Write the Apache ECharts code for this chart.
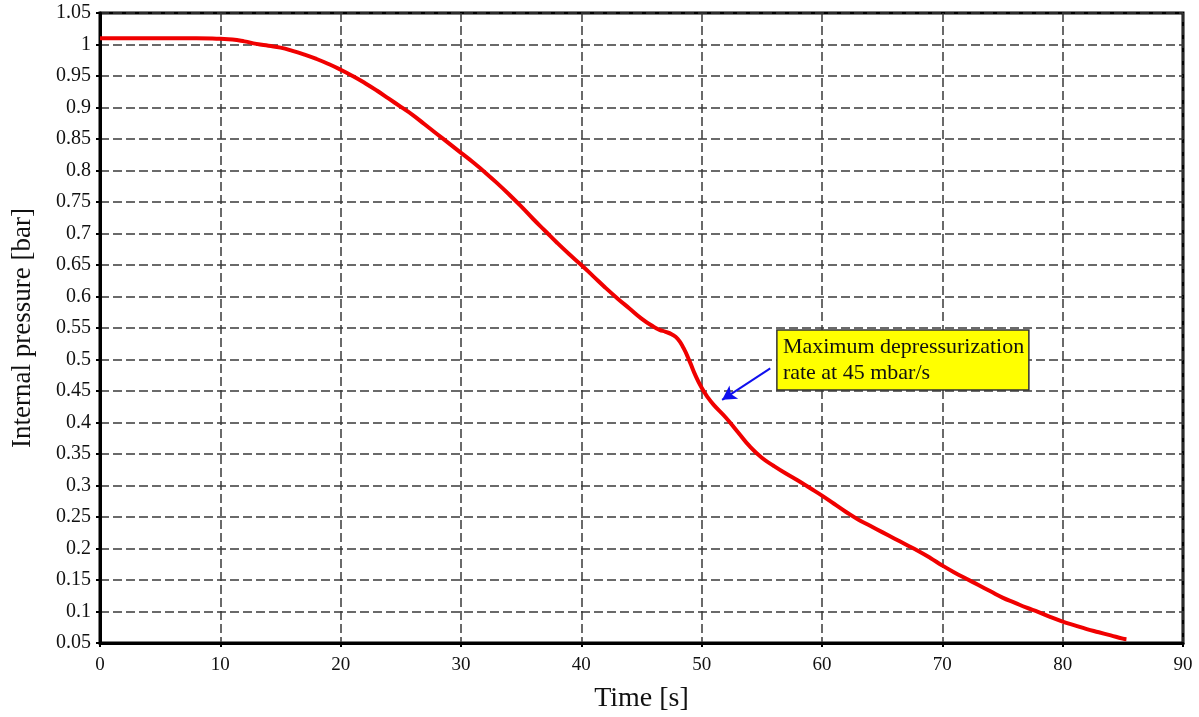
<!DOCTYPE html>
<html>
<head>
<meta charset="utf-8">
<script src="https://cdn.jsdelivr.net/npm/echarts@6/dist/echarts.min.js"></script>
<style>html,body{margin:0;padding:0;background:#fff}#c{width:1199px;height:717px}</style>
</head>
<body>
<div id="c"></div>
<script>
// Data
const timeS = [0, 2, 4, 6, 8, 10, 11, 12, 13, 14, 15, 16, 17, 18, 19, 20, 21, 22, 23, 24, 25, 26, 27, 28, 29, 30, 31, 32, 33, 34, 35, 36, 37, 38, 39, 40, 41, 42, 43, 44, 45, 46, 46.5, 47, 47.5, 48, 48.5, 49, 49.5, 50, 50.5, 51, 52, 53, 54, 55, 56, 57, 58, 59, 60, 61, 62, 63, 64, 65, 66, 67, 68, 69, 70, 71, 72, 73, 74, 75, 76, 77, 78, 79, 80, 81, 82, 83, 84, 85, 85.3];
const pressureBar = [1.01, 1.01, 1.01, 1.01, 1.01, 1.009, 1.008, 1.005, 1.001, 0.998, 0.995, 0.99, 0.984, 0.977, 0.969, 0.96, 0.95, 0.939, 0.927, 0.914, 0.901, 0.888, 0.873, 0.858, 0.843, 0.828, 0.813, 0.797, 0.78, 0.762, 0.743, 0.723, 0.704, 0.685, 0.667, 0.65, 0.632, 0.614, 0.597, 0.581, 0.565, 0.552, 0.547, 0.544, 0.54, 0.533, 0.518, 0.497, 0.474, 0.455, 0.44, 0.428, 0.408, 0.385, 0.362, 0.344, 0.331, 0.319, 0.308, 0.296, 0.284, 0.271, 0.258, 0.246, 0.236, 0.226, 0.216, 0.206, 0.196, 0.185, 0.173, 0.162, 0.152, 0.142, 0.132, 0.122, 0.114, 0.106, 0.099, 0.091, 0.084, 0.078, 0.072, 0.067, 0.062, 0.057, 0.056];
const annotationLines = ['Maximum depressurization', 'rate at 45 mbar/s'];
const arrowFrom = [55.7, 0.486];
const arrowTo = [51.7, 0.436];
const boxAnchor = [56.25, 0.547]; // top-left of note box in data units

const serif = '"Liberation Serif", "DejaVu Serif", serif';
const chart = echarts.init(document.getElementById('c'));
const pts = timeS.map((t, i) => [t, pressureBar[i]]);

chart.setOption({
  animation: false,
  backgroundColor: '#fff',
  grid: { left: 100, right: 16, top: 13, bottom: 74, outerBoundsMode: 'none', containLabel: false,
          show: true, borderColor: '#000', borderWidth: 3, backgroundColor: 'transparent' },
  xAxis: {
    type: 'value', min: 0, max: 90, interval: 10,
    name: 'Time [s]', nameLocation: 'middle', nameGap: 42,
    nameTextStyle: { fontFamily: serif, fontSize: 28, color: '#111' },
    axisLine: { show: true, lineStyle: { color: '#000', width: 3 } },
    axisTick: { show: true, length: 4, lineStyle: { color: '#000', width: 2 } },
    axisLabel: { fontFamily: serif, fontSize: 19, color: '#111', margin: 13 },
    splitLine: { show: true, lineStyle: { color: '#3a3a3a', width: 1.5, type: [9, 4] } }
  },
  yAxis: {
    type: 'value', min: 0.05, max: 1.05, interval: 0.05,
    name: 'Internal pressure [bar]', nameLocation: 'middle', nameGap: 64,
    nameTextStyle: { fontFamily: serif, fontSize: 27, color: '#111' },
    axisLine: { show: true, lineStyle: { color: '#000', width: 3 } },
    axisTick: { show: true, length: 4, lineStyle: { color: '#000', width: 2 } },
    axisLabel: { fontFamily: serif, fontSize: 20, color: '#111', margin: 9,
      formatter: v => String(parseFloat(v.toFixed(2))) },
    splitLine: { show: true, lineStyle: { color: '#3a3a3a', width: 1.5, type: [9, 4] } }
  },
  series: [{
    type: 'line', data: pts, smooth: 0.5, symbol: 'none',
    lineStyle: { color: '#f00000', width: 4 },
    markLine: {
      silent: true, symbol: ['none', 'arrow'], symbolSize: [12, 14],
      label: { show: false },
      lineStyle: { color: '#1010ee', width: 2, type: 'solid' },
      data: [[{ coord: arrowFrom }, { coord: arrowTo }]]
    }
  }]
});

const p = chart.convertToPixel({ gridIndex: 0 }, boxAnchor);
chart.setOption({
  graphic: [{
    type: 'group', x: p[0], y: p[1],
    children: [
      { type: 'rect', shape: { x: 0, y: 0, width: 252, height: 60 },
        style: { fill: '#ffff00', stroke: '#333', lineWidth: 1.5 } },
      { type: 'text', x: 6, y: 4,
        style: { text: annotationLines.join('\n'), fontFamily: serif, fontSize: 22, lineHeight: 26, fill: '#111' } }
    ]
  }]
});
</script>
</body>
</html>
